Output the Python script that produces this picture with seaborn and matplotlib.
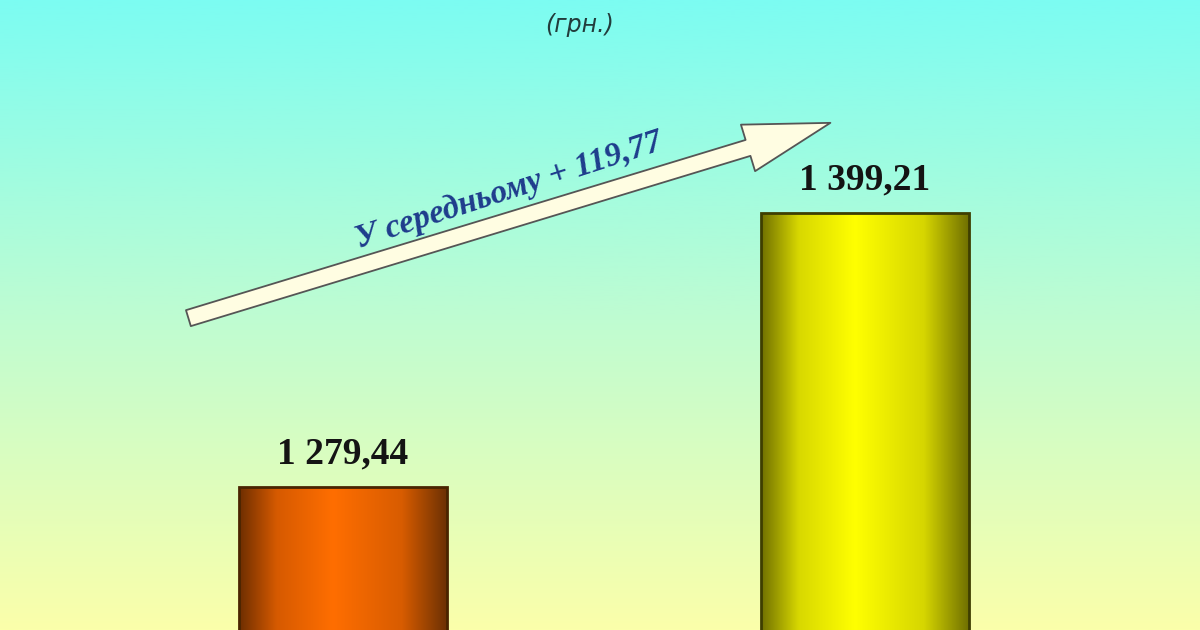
import numpy as np
import pandas as pd
import matplotlib
matplotlib.use("Agg")
import matplotlib.pyplot as plt
import seaborn as sns
from matplotlib.colors import LinearSegmentedColormap

# data
categories = ["Попередній період", "Поточний період"]
values = [1279.44, 1399.21]
value_labels = ["1 279,44", "1 399,21"]
increase_label = "У середньому + 119,77"
unit_label = "(грн.)"

df = pd.DataFrame({"period": categories, "value": values})

sns.set_style("white")

fig = plt.figure(figsize=(12, 6.3), dpi=100)
ax = fig.add_axes([0, 0, 1, 1])

sns.barplot(data=df, x="period", y="value", width=0.4, ax=ax)

xlim = (-0.657, 1.642)
ylim = (1216.9, 1492.3)

# background: cyan at the top fading to pale yellow at the bottom
bg_cmap = LinearSegmentedColormap.from_list(
    "bg", [(0.0, "#FBFFAA"), (0.5, "#BEFCD2"), (1.0, "#7CFCF2")])
grad = np.linspace(0, 1, 256).reshape(-1, 1)
ax.imshow(grad, extent=[xlim[0], xlim[1], ylim[0], ylim[1]], origin="lower",
          aspect="auto", cmap=bg_cmap, zorder=0)

# cylinder-like shading on the bars
bar_cmaps = [
    LinearSegmentedColormap.from_list(
        "orange", [(0.0, "#6E2E00"), (0.18, "#D65A00"), (0.45, "#FF6E00"),
                   (0.78, "#D85C00"), (1.0, "#6A3004")]),
    LinearSegmentedColormap.from_list(
        "yellow", [(0.0, "#707000"), (0.18, "#D8D800"), (0.45, "#FFFF00"),
                   (0.78, "#D6D600"), (1.0, "#6E6E00")]),
]
edge_colors = ["#4A2400", "#3E3E00"]
shade = np.linspace(0, 1, 256).reshape(1, -1)
for p, cm, ec in zip(ax.patches, bar_cmaps, edge_colors):
    x0 = p.get_x()
    w = p.get_width()
    h = p.get_height()
    im = ax.imshow(shade, extent=[x0, x0 + w, ylim[0], h], aspect="auto",
                   cmap=cm, zorder=2)
    im.set_clip_path(p)
    p.set_facecolor("none")
    p.set_edgecolor(ec)
    p.set_linewidth(2)
    p.set_zorder(3)

for i, (v, lab) in enumerate(zip(values, value_labels)):
    ax.annotate(lab, xy=(i, v), xytext=(0, 17), textcoords="offset points",
                ha="center", va="baseline", fontsize=27, fontweight="bold",
                family="Liberation Serif", color="#141414", zorder=4)

# growth arrow
ax.annotate("", xy=(0.692, 0.805), xytext=(0.157, 0.495),
            xycoords="axes fraction",
            arrowprops=dict(arrowstyle="simple,head_length=3.1,head_width=1.75,tail_width=0.6",
                            mutation_scale=20, fc="#FFFDE2", ec="#555555",
                            lw=1.3, shrinkA=0, shrinkB=0),
            zorder=4)
ax.text(0.424, 0.698, increase_label, transform=ax.transAxes, rotation=18,
        ha="center", va="center", fontsize=24, fontstyle="italic",
        fontweight="bold", family="Liberation Serif", color="#1E3C8C",
        zorder=5)

fig.text(0.483, 0.96, unit_label, ha="center", va="center", fontsize=17,
         style="italic", color="#223C3C", family="DejaVu Sans")

ax.set_xlim(*xlim)
ax.set_ylim(*ylim)
ax.set_axis_off()

fig.savefig("out.png", dpi=100)
